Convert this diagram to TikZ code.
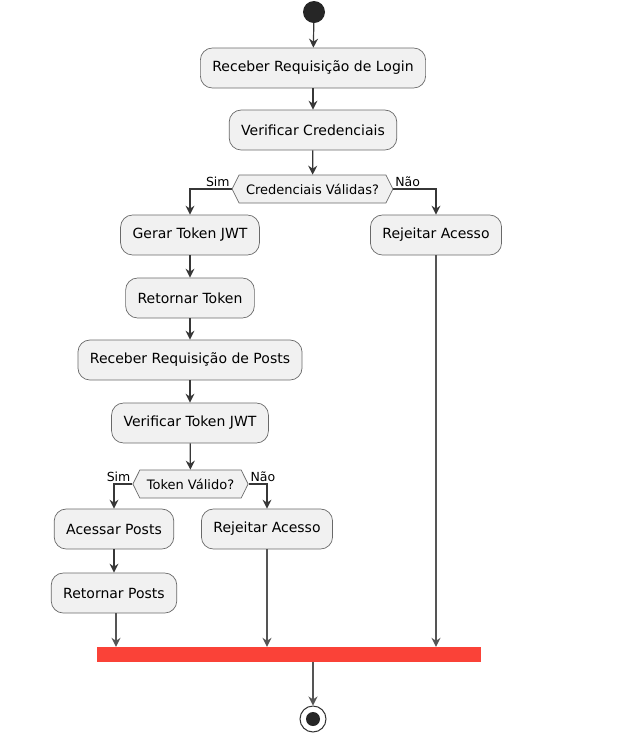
\documentclass[tikz,border=0pt]{standalone}
\usepackage{fontspec}
\setmainfont{DejaVu Sans}
\usetikzlibrary{shapes,arrows,arrows.meta}
\definecolor{boxfill}{RGB}{241,241,241}
\definecolor{boxline}{RGB}{105,105,105}
\definecolor{flowline}{RGB}{55,55,55}
\definecolor{joinline}{RGB}{85,85,85}
\definecolor{barred}{RGB}{250,66,56}
\tikzstyle{action} = [draw=boxline, fill=boxfill, rectangle, rounded corners=12pt,
    minimum height=40pt, inner xsep=12pt, line width=0.7pt, font=\fontsize{14}{16}\selectfont]
\tikzstyle{choice} = [draw=boxline, fill=boxfill, signal, signal to=west and east,
    signal pointer angle=127, minimum height=28pt, inner xsep=7pt, inner ysep=2pt,
    line width=0.7pt, font=\fontsize{13}{15}\selectfont]
\tikzstyle{flow} = [draw=flowline, line width=1.2pt, -{Stealth[length=9pt,width=9pt,inset=3pt]}]
\tikzstyle{joinflow} = [flow, draw=joinline, line width=1.8pt]
\tikzstyle{branch} = [font=\fontsize{12.5}{14}\selectfont, inner sep=1.5pt]

\begin{document}
\begin{tikzpicture}[x=1pt,y=-1pt]
\useasboundingbox (0,0) rectangle (620,740);
 \coordinate (S) at (314,12);
 \coordinate (E) at (313,719);
 \coordinate (J) at (289,654.5);

\node[circle, fill=black!85, minimum size=22pt, inner sep=0pt, name=start] at (S) {};
\node[action, name=login] at (313,68) {Receber Requisição de Login};
\node[action, name=cred] at (313,130) {Verificar Credenciais};
\node[choice, name=okcred] at (312.5,189) {Credenciais Válidas?};
\node[action, name=token] at (190,235) {Gerar Token JWT};
\node[action, name=reject] at (436,235) {Rejeitar Acesso};
\node[action, name=rettoken] at (190,298) {Retornar Token};
\node[action, name=reqposts] at (190,360) {Receber Requisição de Posts};
\node[action, name=vertoken] at (190,423) {Verificar Token JWT};
\node[choice, name=oktoken] at (190.5,484) {Token Válido?};
\node[action, name=access] at (114,529) {Acessar Posts};
\node[action, name=rejectb] at (267,529) {Rejeitar Acesso};
\node[action, name=retposts] at (114,593) {Retornar Posts};
\node[rectangle, fill=barred, minimum width=384pt, minimum height=15pt, inner sep=0pt, name=bar] at (J) {};
\node[circle, draw=black!80, fill=white, line width=1pt, minimum size=26pt, inner sep=0pt, name=stop] at (E) {};
\fill[black!85] (stop.center) circle (7pt);

\draw[flow] (start) -- (login);
\draw[flow] (login) -- (cred);
\draw[flow] (cred) -- (okcred);
\draw[flow] (okcred.west) node[branch, anchor=south east] {Sim} -| (token);
\draw[flow] (okcred.east) node[branch, anchor=south west] {Não} -| (reject);
\draw[flow] (token) -- (rettoken);
\draw[flow] (rettoken) -- (reqposts);
\draw[flow] (reqposts) -- (vertoken);
\draw[flow] (vertoken) -- (oktoken);
\draw[flow] (oktoken.west) node[branch, anchor=south east] {Sim} -| (access);
\draw[flow] (oktoken.east) node[branch, anchor=south west] {Não} -| (rejectb);
\draw[flow] (access) -- (retposts);

\draw[joinflow] ([xshift=2pt]retposts.south) -- ([xshift=2pt]retposts.south |- bar.north);
\draw[joinflow] (rejectb) -- (rejectb |- bar.north);
\draw[joinflow] (reject) -- (reject |- bar.north);
\draw[joinflow] (bar.south -| stop) -- (stop);

\end{tikzpicture}
\end{document}
